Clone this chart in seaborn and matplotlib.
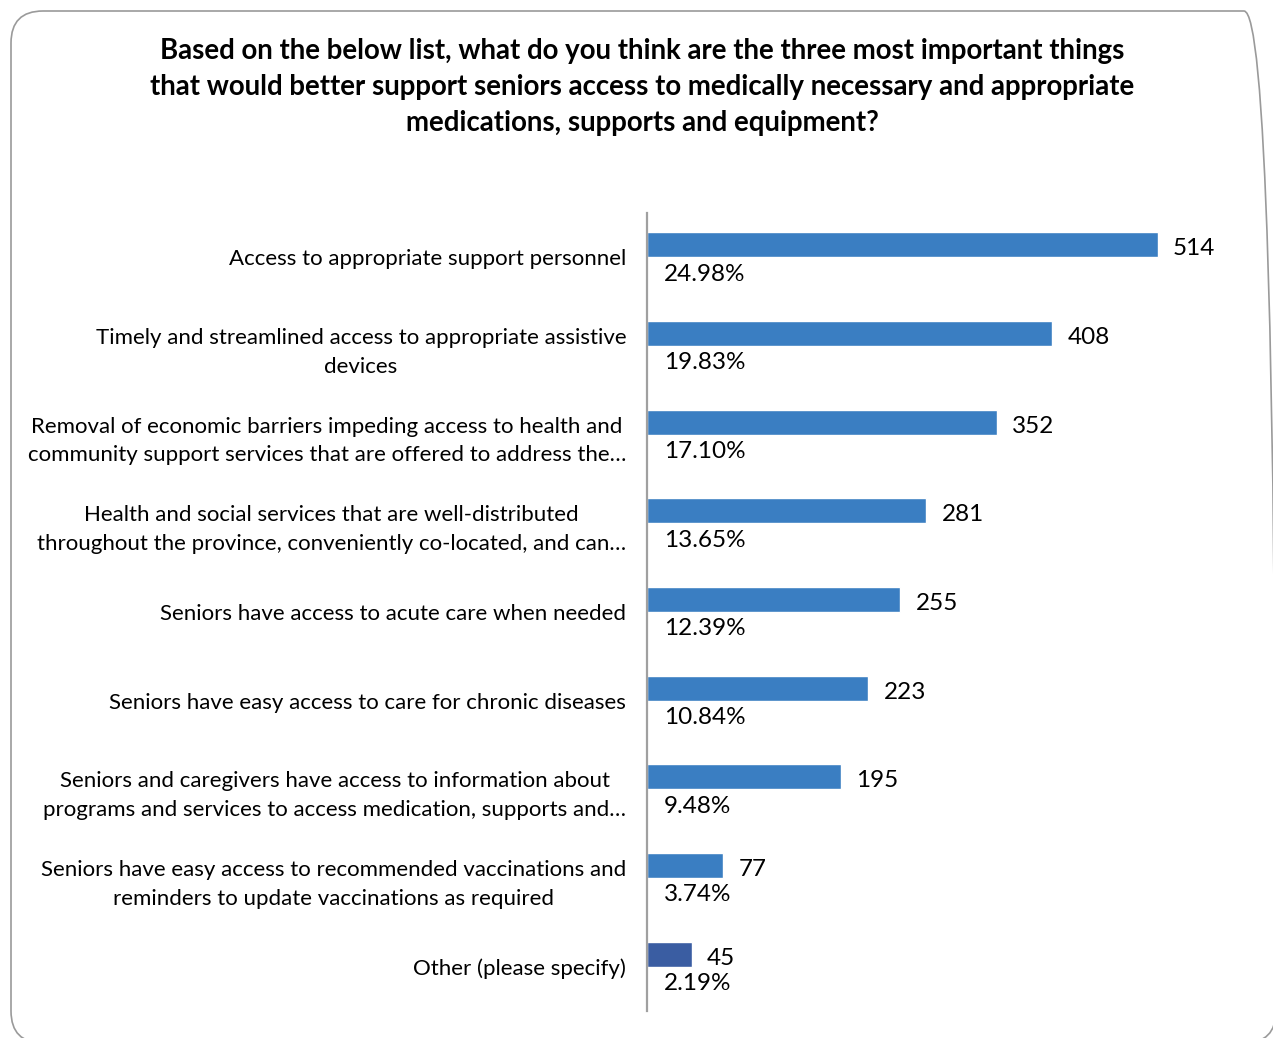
import matplotlib
matplotlib.use("Agg")
import matplotlib.pyplot as plt
import matplotlib.patches as mpatches
import seaborn as sns
import pandas as pd

categories = [
    "Access to appropriate support personnel",
    "Timely and streamlined access to appropriate assistive\ndevices",
    "Removal of economic barriers impeding access to health and\ncommunity support services that are offered to address the…",
    "Health and social services that are well-distributed\nthroughout the province, conveniently co-located, and can…",
    "Seniors have access to acute care when needed",
    "Seniors have easy access to care for chronic diseases",
    "Seniors and caregivers have access to information about\nprograms and services to access medication, supports and…",
    "Seniors have easy access to recommended vaccinations and\nreminders to update vaccinations as required",
    "Other (please specify)",
]
counts = [514, 408, 352, 281, 255, 223, 195, 77, 45]
percents = [24.98, 19.83, 17.10, 13.65, 12.39, 10.84, 9.48, 3.74, 2.19]

title = ("Based on the below list, what do you think are the three most important things\n"
         "that would better support seniors access to medically necessary and appropriate\n"
         "medications, supports and equipment?")

BLUE = "#3A7EC2"
DARK_BLUE = "#3A5DA2"
FONT = "Lato"

sns.set_theme(style="white")
plt.rcParams["font.family"] = [FONT, "DejaVu Sans"]

# Two series per category, as in the survey export: response count and share
df = pd.DataFrame({
    "category": categories * 2,
    "series": ["Responses"] * len(categories) + ["Percent"] * len(categories),
    "value": counts + [p / 100 for p in percents],
})

fig = plt.figure(figsize=(12.73, 10.38), dpi=100)
ax = fig.add_axes([647 / 1273, 1 - 1011 / 1038, (1235 - 647) / 1273, (1011 - 213) / 1038])

sns.barplot(data=df, y="category", x="value", hue="series",
            hue_order=["Responses", "Percent"], order=categories,
            palette=[BLUE, BLUE], width=0.565, dodge=True,
            orient="h", legend=False, ax=ax, saturation=1)

count_bars, pct_bars = ax.containers[0], ax.containers[1]
count_bars.patches[-1].set_facecolor(DARK_BLUE)

count_texts = ax.bar_label(count_bars, labels=[str(c) for c in counts], padding=11,
                           fontsize=17.5, color="black", family=FONT)
pct_texts = ax.bar_label(pct_bars, labels=[f"{p:.2f}%" for p in percents], padding=12,
                         fontsize=17.5, color="black", family=FONT)
for t in list(count_texts) + list(pct_texts):
    dx, dy = t.xyann
    t.xyann = (dx, dy - 3)

ax.set_xlim(0, 592)
ax.set_ylim(len(categories) - 0.5, -0.5)
ax.set_xlabel("")
ax.set_ylabel("")
ax.set_xticks([])
ax.tick_params(axis="y", length=0, pad=15)
for lbl in ax.get_yticklabels():
    lbl.set_fontsize(16)
    lbl.set_multialignment("center")
    lbl.set_linespacing(1.55)
    lbl.set_color("black")

for side in ["top", "right", "bottom"]:
    ax.spines[side].set_visible(False)
ax.spines["left"].set_color("#A0A0A0")
ax.spines["left"].set_linewidth(1.6)

fig.text(642 / 1273, 1 - 87 / 1038, title, ha="center", va="center",
         fontsize=19.9, fontweight="bold", linespacing=1.47, family=FONT,
         color="black")

frame = mpatches.FancyBboxPatch((0.11, -0.05), 12.65, 10.32,
                                boxstyle="round,pad=0,rounding_size=0.32",
                                transform=fig.dpi_scale_trans, fill=False,
                                edgecolor="#9A9A9A", linewidth=1.2, clip_on=False)
fig.patches.append(frame)

fig.savefig("out.png", dpi=100)
